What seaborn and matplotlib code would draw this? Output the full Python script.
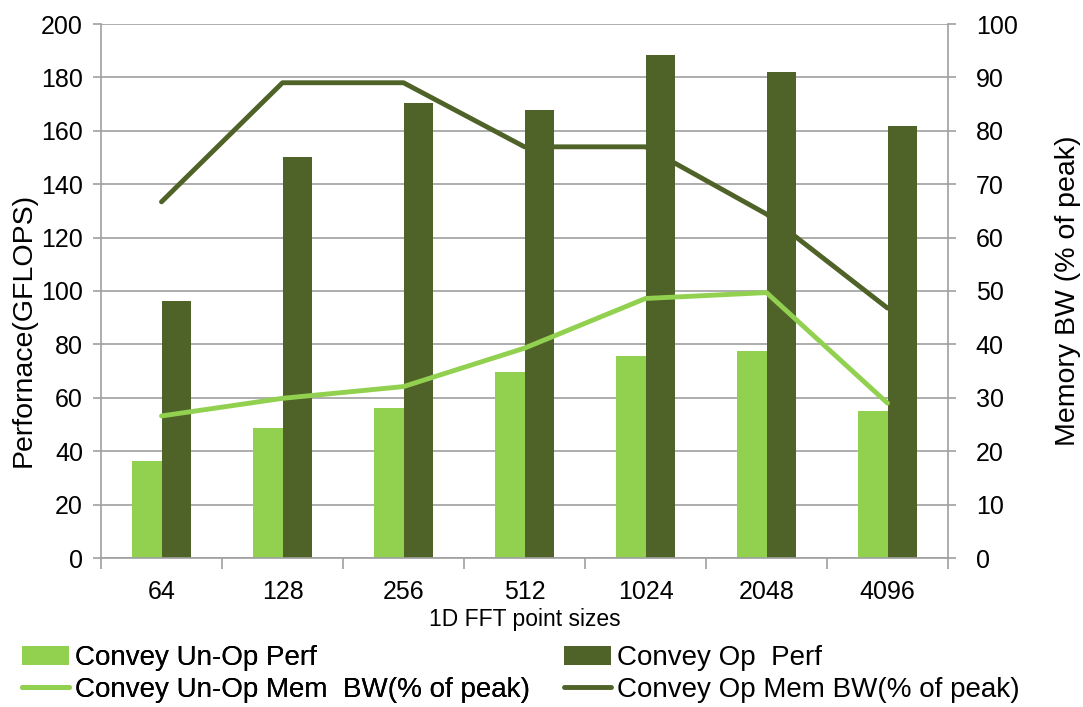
import numpy as np
import pandas as pd
import matplotlib
matplotlib.use("Agg")
import matplotlib.pyplot as plt
import seaborn as sns

sizes = ["64", "128", "256", "512", "1024", "2048", "4096"]
unop_perf = [36.4, 48.6, 56.2, 69.7, 75.5, 77.4, 54.9]
op_perf = [96.2, 150.2, 170.3, 167.8, 188.5, 182.1, 161.8]
unop_bw = [26.6, 29.9, 32.1, 39.3, 48.6, 49.7, 29.0]
op_bw = [66.7, 89.0, 89.0, 77.0, 77.0, 64.4, 46.8]

perf_names = ["Convey Un-Op Perf", "Convey Op  Perf"]
bw_names = ["Convey Un-Op Mem  BW(% of peak)", "Convey Op Mem BW(% of peak)"]
light = "#92D050"
dark = "#4F6228"
grid_c = "#A0A0A0"

sns.set_theme(style="white")
plt.rcParams["font.family"] = ["Liberation Sans", "DejaVu Sans"]
plt.rcParams["text.color"] = "black"
plt.rcParams["axes.labelcolor"] = "black"

perf_df = pd.DataFrame({
    "size": sizes * 2,
    "gflops": unop_perf + op_perf,
    "series": [perf_names[0]] * len(sizes) + [perf_names[1]] * len(sizes),
})
bw_df = pd.DataFrame({
    "pos": list(range(len(sizes))) * 2,
    "bw": unop_bw + op_bw,
    "series": [bw_names[0]] * len(sizes) + [bw_names[1]] * len(sizes),
})

W, H = 1083, 707
fig = plt.figure(figsize=(W / 100, H / 100), dpi=100)
ax = fig.add_axes([101 / W, 1 - 558 / H, (948 - 101) / W, (558 - 24) / H])

sns.barplot(data=perf_df, x="size", y="gflops", hue="series", order=sizes,
            hue_order=perf_names, palette=[light, dark], width=0.48,
            saturation=1, linewidth=0, ax=ax, legend=True)

ax.set_ylim(0, 200)
ax.set_yticks(range(0, 201, 20))
ax.set_xlim(-0.5, len(sizes) - 0.5)
ax.yaxis.grid(True, color=grid_c, linewidth=1.2)
ax.set_axisbelow(True)
ax.set_xticks(np.arange(len(sizes)))
ax.set_xticklabels(sizes)
ax.set_xticks(np.arange(len(sizes) + 1) - 0.5, minor=True)
ax.tick_params(axis="x", which="major", length=0, pad=16, labelsize=18,
               labelcolor="black")
ax.tick_params(axis="x", which="minor", length=8, width=1.2, color=grid_c,
               direction="out", bottom=True)
ax.tick_params(axis="y", length=6, width=1.2, color=grid_c, direction="out",
               left=True, labelsize=18, pad=7, labelcolor="black")

ax.set_xlabel("1D FFT point sizes", fontsize=16.5, labelpad=3)
ax.set_ylabel("Perfornace(GFLOPS)", fontsize=20.5)
ax.yaxis.set_label_coords(-0.0756, 0.427)

for side in ["left", "bottom"]:
    ax.spines[side].set_color(grid_c)
    ax.spines[side].set_linewidth(1.2)
for side in ["top", "right"]:
    ax.spines[side].set_visible(False)

ax2 = ax.twinx()
sns.lineplot(data=bw_df, x="pos", y="bw", hue="series", hue_order=bw_names,
             palette=[light, dark], linewidth=3.5, ax=ax2, legend=True)
ax2.set_ylim(0, 100)
ax2.set_yticks(range(0, 101, 10))
ax2.set_ylabel("Memory BW (% of peak)", fontsize=20.5, labelpad=27)
ax2.tick_params(axis="y", length=6, width=1.2, color=grid_c, direction="out",
                right=True, labelsize=18, pad=14, labelcolor="black")
ax2.set_xlim(-0.5, len(sizes) - 0.5)
ax2.set_xlabel("")
for side in ["top", "left", "bottom"]:
    ax2.spines[side].set_visible(False)
ax2.spines["right"].set_color(grid_c)
ax2.spines["right"].set_linewidth(1.2)

h1, l1 = ax.get_legend_handles_labels()
h2, l2 = ax2.get_legend_handles_labels()
ax.get_legend().remove()
ax2.get_legend().remove()
for hl in h2:
    hl.set_solid_capstyle("round")

leg_kw = dict(frameon=False, fontsize=20, handlelength=1.7, handletextpad=0.2,
              labelspacing=0.2, borderaxespad=0, borderpad=0,
              loc="lower left")
leg_left = fig.legend([h1[0], h2[0]], [l1[0], l2[0]],
                      bbox_to_anchor=(22 / W, 1 - 703 / H), **leg_kw)
fig.add_artist(leg_left)
fig.legend([h1[1], h2[1]], [l1[1], l2[1]],
           bbox_to_anchor=(564 / W, 1 - 703 / H), **leg_kw)

fig.savefig("out.png", dpi=100)
